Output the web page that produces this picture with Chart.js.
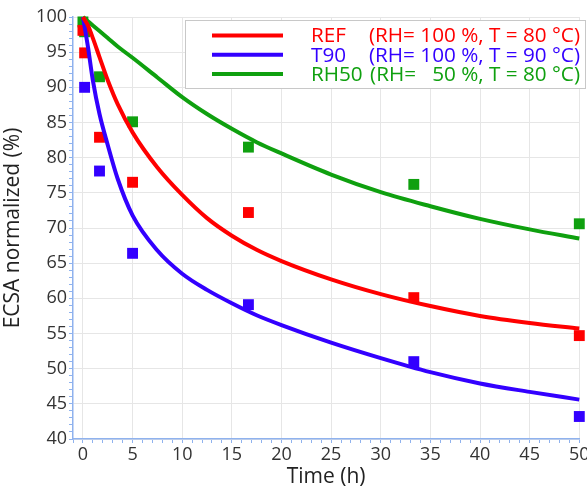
<!DOCTYPE html>
<html>
<head>
<meta charset="utf-8">
<script src="https://cdn.jsdelivr.net/npm/chart.js@4.4.1/dist/chart.umd.min.js"></script>
<style>
    html, body { margin: 0; padding: 0; background: #fff; }
</style>
</head>
<body>
<canvas id="ecsaChart" width="587" height="487"></canvas>
<script>
// measured ECSA (normalized, %)
var measTimes = [0, 0.17, 1.67, 5, 16.67, 33.33, 50];
var refMeas  = [98.1, 94.9, 82.9, 76.5, 72.2, 60.1, 54.7];
var t90Meas  = [null, 90.0, 78.1, 66.4, 59.1, 51.0, 43.2];
var rh50Meas = [99.3, 97.9, 91.5, 85.1, 81.5, 76.2, 70.6];

// fitted curves
var fitTimes = [0, 0.5, 1, 1.67, 2.5, 3.5, 5, 7.5, 10, 12.5, 15, 17.5, 20, 25, 30, 35, 40, 45, 50];
var refFit  = [100, 98.8, 97.0, 94.3, 91.0, 87.6, 83.6, 78.6, 74.7, 71.4, 68.9, 66.9, 65.3, 62.7, 60.6, 58.9, 57.5, 56.5, 55.7];
var t90Fit  = [100, 95.8, 91.0, 86.2, 81.8, 77.0, 71.8, 66.8, 63.5, 61.2, 59.3, 57.6, 56.2, 53.7, 51.5, 49.5, 47.9, 46.7, 45.6];
var rh50Fit = [100, 99.4, 98.8, 98.0, 97.0, 95.8, 94.2, 91.4, 88.6, 86.2, 84.1, 82.2, 80.6, 77.6, 75.1, 73.1, 71.3, 69.8, 68.5];

var seriesNames = ['REF', 'T90', 'RH50'];
var seriesConds = ['(RH= 100 %, T = 80 \u00B0C)', '(RH= 100 %, T = 90 \u00B0C)', '(RH=   50 %, T = 80 \u00B0C)'];
var colors = ['#ff0000', '#3300ff', '#0fa00f'];

function toXY(xs, ys) {
    var out = [];
    for (var i = 0; i < xs.length; i++) {
        if (ys[i] !== null) out.push({ x: xs[i], y: ys[i] });
    }
    return out;
}

function fitSet(data, color) {
    return {
        data: data,
        showLine: true,
        borderColor: color,
        borderWidth: 4,
        pointRadius: 0,
        cubicInterpolationMode: 'monotone',
        fill: false,
        clip: false,
        order: 1
    };
}

function pointSet(data, color) {
    return {
        data: data,
        showLine: false,
        pointStyle: 'rect',
        pointRadius: 7.7,
        pointBackgroundColor: color,
        pointBorderWidth: 0,
        clip: false,
        order: 2
    };
}

function noPad() { return { left: 0, right: 0, top: 0, bottom: 0 }; }

// legend box in the upper right corner
var legendBox = {
    id: 'legendBox',
    afterDraw: function (chart) {
        var c = chart.ctx;
        c.save();
        c.fillStyle = '#fff';
        c.fillRect(185.5, 20.5, 400, 68);
        c.strokeStyle = '#c8c8c8';
        c.lineWidth = 1;
        c.strokeRect(185.5, 20.5, 400, 68);
        c.font = '20.7px "Open Sans"';
        c.textBaseline = 'middle';
        for (var i = 0; i < 3; i++) {
            var y = 35.5 + i * 19.3;
            c.strokeStyle = colors[i];
            c.lineWidth = 4;
            c.beginPath();
            c.moveTo(212, y);
            c.lineTo(283, y);
            c.stroke();
            c.fillStyle = colors[i];
            c.textAlign = 'left';
            c.fillText(seriesNames[i], 311, y + 1);
            c.textAlign = 'right';
            c.fillText(seriesConds[i], 580, y + 1);
        }
        c.restore();
    }
};

var ctx = document.getElementById('ecsaChart').getContext('2d');
var ecsaChart = new Chart(ctx, {
    type: 'scatter',
    data: {
        datasets: [
            fitSet(toXY(fitTimes, refFit), colors[0]),
            fitSet(toXY(fitTimes, t90Fit), colors[1]),
            fitSet(toXY(fitTimes, rh50Fit), colors[2]),
            pointSet(toXY(measTimes, refMeas), colors[0]),
            pointSet(toXY(measTimes, t90Meas), colors[1]),
            pointSet(toXY(measTimes, rh50Meas), colors[2])
        ]
    },
    options: {
        responsive: false,
        animation: false,
        layout: { padding: { top: 17, right: 0, left: 0, bottom: 0 } },
        plugins: {
            legend: { display: false },
            tooltip: { enabled: false }
        },
        scales: {
            x: {
                type: 'linear',
                min: -1,
                max: 50,
                border: { color: '#8fb2ee', width: 1.5 },
                grid: {
                    color: function (c) { return c.tick && c.tick.value % 5 === 0 ? '#e6e6e6' : 'rgba(0,0,0,0)'; },
                    tickColor: '#8fb2ee',
                    tickLength: 4
                },
                ticks: {
                    stepSize: 1,
                    autoSkip: false,
                    includeBounds: false,
                    maxRotation: 0,
                    padding: 1,
                    color: '#333',
                    font: { family: 'Open Sans', size: 18 },
                    callback: function (v) { return v % 5 === 0 ? v : ''; }
                },
                title: {
                    display: true,
                    text: 'Time (h)',
                    color: '#222',
                    font: { family: 'Open Sans', size: 21 },
                    padding: { top: 0, bottom: -3 }
                },
                afterFit: function (s) {
                    s.height = 48;
                    s.paddingRight = 0;
                    s.paddingLeft = 0;
                    if (s._margins) { s._margins.left = 0; s._margins.right = 0; }
                    s.getPadding = noPad;
                }
            },
            y: {
                type: 'linear',
                min: 40,
                max: 100,
                border: { color: '#8fb2ee', width: 1.5 },
                grid: {
                    color: function (c) { return c.tick && c.tick.value % 5 === 0 ? '#e6e6e6' : 'rgba(0,0,0,0)'; },
                    tickColor: '#8fb2ee',
                    tickLength: 4
                },
                ticks: {
                    stepSize: 1,
                    autoSkip: false,
                    padding: 2,
                    color: '#333',
                    font: { family: 'Open Sans', size: 18 },
                    callback: function (v) { return v % 5 === 0 ? v : ''; }
                },
                title: {
                    display: true,
                    text: 'ECSA normalized (%)',
                    color: '#222',
                    font: { family: 'Open Sans', size: 21 },
                    padding: { top: 0, bottom: 3 }
                },
                afterFit: function (s) {
                    s.width = 73;
                    s.paddingTop = 0;
                    s.paddingBottom = 0;
                    if (s._margins) { s._margins.top = 0; s._margins.bottom = 0; }
                    s.getPadding = noPad;
                }
            }
        }
    },
    plugins: [legendBox]
});
</script>
</body>
</html>
